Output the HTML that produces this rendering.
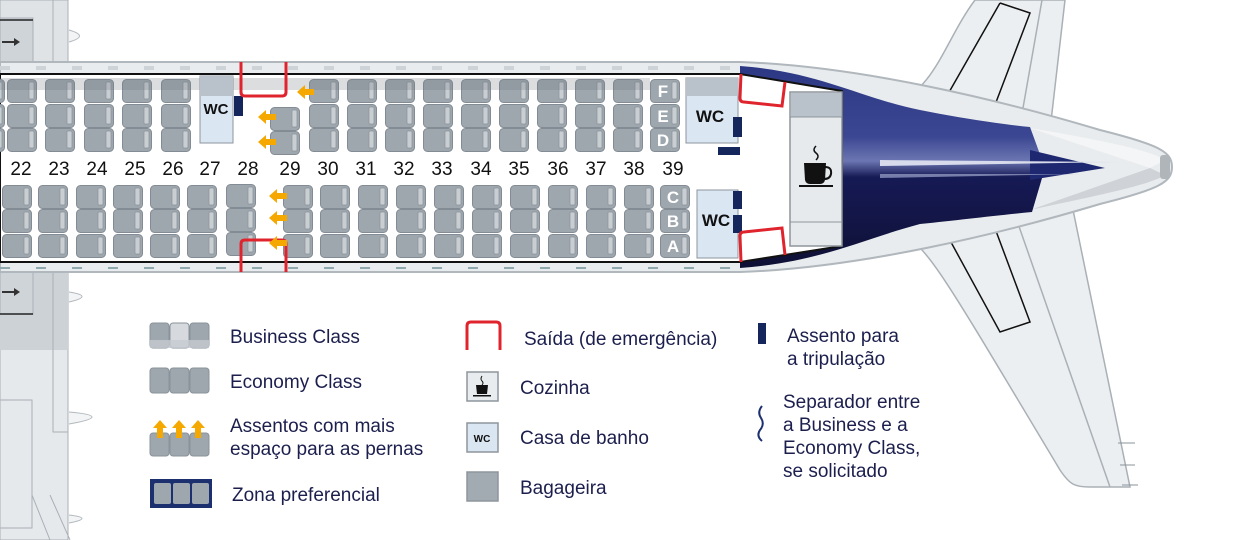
<!DOCTYPE html>
<html><head><meta charset="utf-8"><style>
html,body{margin:0;padding:0;background:#fff;}
svg{display:block;}
.t{font-family:"Liberation Sans",sans-serif;fill:#1c1f4d;font-size:19px;}
.n{font-family:"Liberation Sans",sans-serif;fill:#111;font-size:19px;text-anchor:middle;}
.l{font-family:"Liberation Sans",sans-serif;fill:#fff;font-size:17px;font-weight:bold;text-anchor:middle;}
</style></head><body>
<svg width="1250" height="540" viewBox="0 0 1250 540" xmlns="http://www.w3.org/2000/svg">
<defs>
<symbol id="s" viewBox="0 0 31 24" width="31" height="24">
<rect x="0.5" y="0.5" width="29" height="23" rx="4" fill="#9ea7ae" stroke="#838c94"/>
<rect x="22" y="3" width="5" height="17" rx="1" fill="#c9ced3" stroke="#8a939a" stroke-width="0.7"/>
</symbol>
<linearGradient id="bl" x1="0" y1="0" x2="0" y2="1">
<stop offset="0" stop-color="#2c3883"/><stop offset="0.35" stop-color="#3b4792"/><stop offset="0.47" stop-color="#6c76b2"/><stop offset="0.55" stop-color="#161a55"/><stop offset="1" stop-color="#0f1035"/>
</linearGradient>
</defs>

<!-- stabilizers -->
<path d="M895,102 C935,90 945,40 975,0 L1065,0 L1050,130 Z" fill="#eceff1" stroke="#a9b0b6" stroke-width="1.5"/>
<path d="M1000,3 L1030,13 L990,118 M1000,3 L940,108" stroke="#111" stroke-width="1.5" fill="none"/>
<path d="M1042,0 L1020,125" stroke="#a9b0b6" stroke-width="1.5"/>
<path d="M900,232 C930,250 940,270 1060,470 C1070,485 1075,487 1090,487 L1130,487 L1072,205 Z" fill="#eceff1" stroke="#a9b0b6" stroke-width="1.5"/>
<path d="M940,222 L1000,332 L1030,322 L990,215" stroke="#111" stroke-width="1.5" fill="none"/>
<path d="M1015,215 L1110,487" stroke="#a9b0b6" stroke-width="1.5"/>
<path d="M1118,443 L1135,443 M1120,465 L1135,465 M1122,485 L1138,485" stroke="#8a939a"/>

<!-- left wings -->
<rect x="0" y="0" width="68" height="62" fill="#dfe3e6" stroke="#a9b0b6"/>
<rect x="0" y="18" width="33" height="44" fill="#cfd4d8" stroke="#a9b0b6"/>
<line x1="0" y1="20" x2="33" y2="20" stroke="#222" stroke-width="1.5"/>
<path d="M2,42 L16,42" stroke="#333" stroke-width="2"/><path d="M14,38 L20,42 L14,46 Z" fill="#333"/>
<line x1="53" y1="0" x2="53" y2="62" stroke="#a9b0b6"/>
<path d="M69,30 Q90,36 69,42" fill="#f3f4f5" stroke="#b3b9be"/>
<rect x="0" y="270" width="68" height="270" fill="#e6e9ec" stroke="#a9b0b6"/>
<rect x="0" y="270" width="68" height="80" fill="#cdd2d6"/>
<rect x="0" y="272" width="33" height="42" fill="#cfd4d8" stroke="#a9b0b6"/>
<line x1="0" y1="314" x2="33" y2="314" stroke="#222" stroke-width="1.5"/>
<path d="M2,292 L16,292" stroke="#333" stroke-width="2"/><path d="M14,288 L20,292 L14,296 Z" fill="#333"/>
<path d="M53,270 L53,432 L68,432" stroke="#a9b0b6" fill="none"/>
<rect x="0" y="400" width="32" height="128" fill="none" stroke="#a9b0b6"/>
<path d="M69,292 Q95,296 69,302 M69,412 Q115,416 69,424 M69,515 Q95,518 69,523" fill="#f3f4f5" stroke="#b3b9be"/>
<path d="M32,495 L50,540 M50,495 L70,540" stroke="#a9b0b6"/>

<!-- fuselage -->
<path d="M0,62 L740,62 C860,66 1000,100 1100,130 C1160,145 1172,152 1172,167 C1172,182 1160,189 1100,204 C1000,234 860,268 740,272 L0,272 Z" fill="#e9ecee" stroke="#b0b7bd" stroke-width="2"/>
<path d="M1030,128 C1100,140 1150,150 1165,160 L1150,168 Z" fill="#f4f5f6"/>
<path d="M1030,210 C1100,195 1150,185 1165,175 L1150,168 Z" fill="#cfd3d7"/>
<path d="M740,66 C820,72 860,98 920,110 C960,118 1000,124 1030,127 L1045,168 L1032,212 C990,216 960,220 920,224 C860,240 820,262 740,268 Z" fill="url(#bl)"/>
<path d="M1030,150 L1105,168 L1030,180 Z" fill="#1e2870"/>
<path d="M880,160 L1120,162 L880,166 Z" fill="#d7dbeb"/>
<path d="M880,174 L1080,174 L880,178 Z" fill="#9ea5cc" opacity="0.7"/>
<rect x="1160" y="155" width="10" height="24" rx="3" fill="#b0b5ba"/>
<!-- window strips -->
<line x1="0" y1="68" x2="740" y2="68" stroke="#cdd3d7" stroke-width="4" stroke-dasharray="10 26"/>
<line x1="0" y1="268" x2="740" y2="268" stroke="#8fa9ae" stroke-width="2" stroke-dasharray="10 26"/>
<!-- cabin -->
<path d="M0,74 L740,74 L842,91 L842,246 L740,262 L0,262 Z" fill="#fff" stroke="#111" stroke-width="2"/>

<!-- upper seats -->
<g>
<use href="#s" x="-25" y="79"/><use href="#s" x="-25" y="104"/><use href="#s" x="-25" y="128"/>
<use href="#s" x="7" y="79"/><use href="#s" x="7" y="104"/><use href="#s" x="7" y="128"/>
<use href="#s" x="45" y="79"/><use href="#s" x="45" y="104"/><use href="#s" x="45" y="128"/>
<use href="#s" x="84" y="79"/><use href="#s" x="84" y="104"/><use href="#s" x="84" y="128"/>
<use href="#s" x="122" y="79"/><use href="#s" x="122" y="104"/><use href="#s" x="122" y="128"/>
<use href="#s" x="161" y="79"/><use href="#s" x="161" y="104"/><use href="#s" x="161" y="128"/>
<use href="#s" x="270" y="107"/><use href="#s" x="270" y="131"/>
<use href="#s" x="309" y="79"/><use href="#s" x="309" y="104"/><use href="#s" x="309" y="128"/>
<use href="#s" x="347" y="79"/><use href="#s" x="347" y="104"/><use href="#s" x="347" y="128"/>
<use href="#s" x="385" y="79"/><use href="#s" x="385" y="104"/><use href="#s" x="385" y="128"/>
<use href="#s" x="423" y="79"/><use href="#s" x="423" y="104"/><use href="#s" x="423" y="128"/>
<use href="#s" x="461" y="79"/><use href="#s" x="461" y="104"/><use href="#s" x="461" y="128"/>
<use href="#s" x="499" y="79"/><use href="#s" x="499" y="104"/><use href="#s" x="499" y="128"/>
<use href="#s" x="537" y="79"/><use href="#s" x="537" y="104"/><use href="#s" x="537" y="128"/>
<use href="#s" x="575" y="79"/><use href="#s" x="575" y="104"/><use href="#s" x="575" y="128"/>
<use href="#s" x="613" y="79"/><use href="#s" x="613" y="104"/><use href="#s" x="613" y="128"/>
<use href="#s" x="650" y="79"/><use href="#s" x="650" y="104"/><use href="#s" x="650" y="128"/>
</g>
<rect x="0" y="78" width="650" height="12" fill="#6f7880" opacity="0.25"/>
<!-- lower seats -->
<g>
<use href="#s" x="2" y="185"/><use href="#s" x="2" y="209"/><use href="#s" x="2" y="234"/>
<use href="#s" x="38" y="185"/><use href="#s" x="38" y="209"/><use href="#s" x="38" y="234"/>
<use href="#s" x="76" y="185"/><use href="#s" x="76" y="209"/><use href="#s" x="76" y="234"/>
<use href="#s" x="113" y="185"/><use href="#s" x="113" y="209"/><use href="#s" x="113" y="234"/>
<use href="#s" x="150" y="185"/><use href="#s" x="150" y="209"/><use href="#s" x="150" y="234"/>
<use href="#s" x="187" y="185"/><use href="#s" x="187" y="209"/><use href="#s" x="187" y="234"/>
<use href="#s" x="226" y="184"/><use href="#s" x="226" y="208"/><use href="#s" x="226" y="232"/>
<use href="#s" x="283" y="185"/><use href="#s" x="283" y="209"/><use href="#s" x="283" y="234"/>
<use href="#s" x="320" y="185"/><use href="#s" x="320" y="209"/><use href="#s" x="320" y="234"/>
<use href="#s" x="358" y="185"/><use href="#s" x="358" y="209"/><use href="#s" x="358" y="234"/>
<use href="#s" x="396" y="185"/><use href="#s" x="396" y="209"/><use href="#s" x="396" y="234"/>
<use href="#s" x="434" y="185"/><use href="#s" x="434" y="209"/><use href="#s" x="434" y="234"/>
<use href="#s" x="472" y="185"/><use href="#s" x="472" y="209"/><use href="#s" x="472" y="234"/>
<use href="#s" x="510" y="185"/><use href="#s" x="510" y="209"/><use href="#s" x="510" y="234"/>
<use href="#s" x="548" y="185"/><use href="#s" x="548" y="209"/><use href="#s" x="548" y="234"/>
<use href="#s" x="586" y="185"/><use href="#s" x="586" y="209"/><use href="#s" x="586" y="234"/>
<use href="#s" x="624" y="185"/><use href="#s" x="624" y="209"/><use href="#s" x="624" y="234"/>
<use href="#s" x="660" y="185"/><use href="#s" x="660" y="209"/><use href="#s" x="660" y="234"/>
</g>
<text class="l" x="663" y="97">F</text><text class="l" x="663" y="122">E</text><text class="l" x="663" y="146">D</text>
<text class="l" x="673" y="203">C</text><text class="l" x="673" y="227">B</text><text class="l" x="673" y="252">A</text>

<!-- WCs -->
<rect x="200" y="76" width="33" height="67" fill="#dbe6f3" stroke="#8d959c"/>
<rect x="200" y="76" width="33" height="20" fill="#b9c2ca"/>
<text x="216" y="114" font-family="Liberation Sans,sans-serif" font-size="15" font-weight="bold" text-anchor="middle" fill="#111">WC</text>
<rect x="234" y="96" width="9" height="20" fill="#15265c"/>
<rect x="686" y="78" width="52" height="65" fill="#dbe6f3" stroke="#8d959c"/>
<rect x="686" y="78" width="52" height="18" fill="#b9c2ca"/>
<text x="710" y="122" font-family="Liberation Sans,sans-serif" font-size="17" font-weight="bold" text-anchor="middle" fill="#111">WC</text>
<rect x="733" y="117" width="9" height="20" fill="#15265c"/>
<rect x="718" y="147" width="22" height="8" fill="#15265c"/>
<rect x="697" y="190" width="41" height="68" fill="#dbe6f3" stroke="#8d959c"/>
<text x="716" y="226" font-family="Liberation Sans,sans-serif" font-size="17" font-weight="bold" text-anchor="middle" fill="#111">WC</text>
<rect x="733" y="191" width="9" height="18" fill="#15265c"/>
<rect x="733" y="215" width="9" height="18" fill="#15265c"/>

<!-- galley -->
<rect x="790" y="92" width="52" height="154" fill="#e6eaed" stroke="#8d959c" stroke-width="1.5"/>
<rect x="791" y="93" width="50" height="24" fill="#b9c2ca"/>
<line x1="790" y1="117" x2="842" y2="117" stroke="#8d959c"/>
<line x1="790" y1="222" x2="842" y2="222" stroke="#8d959c"/>
<path d="M804,163 L826,163 L825,180 Q824,184 820,184 L810,184 Q806,184 805,180 Z" fill="#111"/>
<path d="M825,167 Q832,167 831,174 Q830,179 824,179" fill="none" stroke="#111" stroke-width="2"/>
<rect x="799" y="185" width="34" height="2" fill="#111"/>
<path d="M816,146 Q812,150 816,153 Q820,156 816,160" fill="none" stroke="#111" stroke-width="1.5"/>

<!-- exits -->
<path d="M241,62 L241,92 Q241,96 245,96 L282,96 Q286,96 286,92 L286,62" fill="none" stroke="#e0242e" stroke-width="3"/>
<path d="M241,272 L241,244 Q241,240 245,240 L282,240 Q286,240 286,244 L286,272" fill="none" stroke="#e0242e" stroke-width="3"/>
<path d="M741,74 L740,98 Q740,102 744,102 L782,106 L785,82" fill="none" stroke="#e0242e" stroke-width="3"/>
<path d="M741,262 L740,236 Q740,232 744,232 L782,228 L785,255" fill="none" stroke="#e0242e" stroke-width="3"/>

<!-- orange arrows -->
<g fill="#f5a800">
<path d="M314,89 L305,89 L305,85 L297,92 L305,99 L305,95 L314,95 Z"/>
<path d="M276,114 L266,114 L266,110 L258,117 L266,124 L266,120 L276,120 Z"/>
<path d="M276,139 L266,139 L266,135 L258,142 L266,149 L266,145 L276,145 Z"/>
<path d="M287,193 L277,193 L277,189 L269,196 L277,203 L277,199 L287,199 Z"/>
<path d="M287,215 L277,215 L277,211 L269,218 L277,225 L277,221 L287,221 Z"/>
<path d="M287,240 L277,240 L277,236 L269,243 L277,250 L277,246 L287,246 Z"/>
</g>

<!-- row numbers -->
<g>
<text class="n" x="21" y="175">22</text><text class="n" x="59" y="175">23</text><text class="n" x="97" y="175">24</text>
<text class="n" x="135" y="175">25</text><text class="n" x="173" y="175">26</text><text class="n" x="210" y="175">27</text>
<text class="n" x="248" y="175">28</text><text class="n" x="290" y="175">29</text><text class="n" x="328" y="175">30</text>
<text class="n" x="366" y="175">31</text><text class="n" x="404" y="175">32</text><text class="n" x="442" y="175">33</text>
<text class="n" x="481" y="175">34</text><text class="n" x="519" y="175">35</text><text class="n" x="558" y="175">36</text>
<text class="n" x="596" y="175">37</text><text class="n" x="634" y="175">38</text><text class="n" x="673" y="175">39</text>
</g>

<!-- legend -->
<g>
<rect x="150" y="323" width="19" height="25" rx="3" fill="#9ea7ae" stroke="#8a939a"/><rect x="170" y="323" width="19" height="25" rx="3" fill="#d6dade" stroke="#8a939a"/><rect x="190" y="323" width="19" height="25" rx="3" fill="#9ea7ae" stroke="#8a939a"/>
<rect x="150" y="340" width="59" height="8" fill="#c4cad0" opacity="0.8"/>
<text class="t" x="230" y="343">Business Class</text>
<rect x="150" y="368" width="19" height="25" rx="3" fill="#9ea7ae" stroke="#8a939a"/><rect x="170" y="368" width="19" height="25" rx="3" fill="#9ea7ae" stroke="#8a939a"/><rect x="190" y="368" width="19" height="25" rx="3" fill="#9ea7ae" stroke="#8a939a"/>
<text class="t" x="230" y="388">Economy Class</text>
<rect x="150" y="433" width="19" height="23" rx="3" fill="#9ea7ae" stroke="#8a939a"/><rect x="170" y="433" width="19" height="23" rx="3" fill="#9ea7ae" stroke="#8a939a"/><rect x="190" y="433" width="19" height="23" rx="3" fill="#9ea7ae" stroke="#8a939a"/>
<g fill="#f5a800"><path d="M157,438 L157,428 L153,428 L160,420 L167,428 L163,428 L163,438 Z"/><path d="M176,438 L176,428 L172,428 L179,420 L186,428 L182,428 L182,438 Z"/><path d="M195,438 L195,428 L191,428 L198,420 L205,428 L201,428 L201,438 Z"/></g>
<text class="t" x="230" y="432">Assentos com mais</text>
<text class="t" x="230" y="455">espaço para as pernas</text>
<rect x="150" y="479" width="62" height="29" fill="#1c2f6e"/>
<rect x="154" y="483" width="17" height="21" rx="2" fill="#9ea7ae"/><rect x="173" y="483" width="17" height="21" rx="2" fill="#9ea7ae"/><rect x="192" y="483" width="17" height="21" rx="2" fill="#9ea7ae"/>
<text class="t" x="232" y="501">Zona preferencial</text>

<path d="M467,350 L467,326 Q467,322 471,322 L496,322 Q500,322 500,326 L500,350" fill="none" stroke="#e0242e" stroke-width="3"/>
<text class="t" x="524" y="345">Saída (de emergência)</text>
<rect x="467" y="372" width="31" height="29" fill="#e8ecef" stroke="#8d959c" stroke-width="1.5"/>
<path d="M476,385 L488,385 L487,394 L477,394 Z" fill="#111"/><rect x="473" y="395" width="18" height="1.5" fill="#111"/>
<path d="M482,376 Q480,379 482,381 Q484,383 482,385" fill="none" stroke="#111"/>
<text class="t" x="520" y="394">Cozinha</text>
<rect x="467" y="423" width="31" height="29" fill="#dbe6f3" stroke="#8d959c" stroke-width="1.5"/>
<text x="482" y="442" font-family="Liberation Sans,sans-serif" font-size="10" font-weight="bold" text-anchor="middle" fill="#111">WC</text>
<text class="t" x="520" y="444">Casa de banho</text>
<rect x="467" y="472" width="31" height="29" fill="#a2abb2" stroke="#8d959c" stroke-width="1.5"/>
<text class="t" x="520" y="494">Bagageira</text>

<rect x="758" y="323" width="8" height="21" fill="#15265c"/>
<text class="t" x="787" y="342">Assento para</text>
<text class="t" x="787" y="365">a tripulação</text>
<path d="M762,406 Q757,412 761,418 Q765,424 760,430 Q756,436 762,441" fill="none" stroke="#1c2f6e" stroke-width="2"/>
<text class="t" x="783" y="408">Separador entre</text>
<text class="t" x="783" y="431">a Business e a</text>
<text class="t" x="783" y="454">Economy Class,</text>
<text class="t" x="783" y="477">se solicitado</text>
</g>
</svg>
</body></html>
